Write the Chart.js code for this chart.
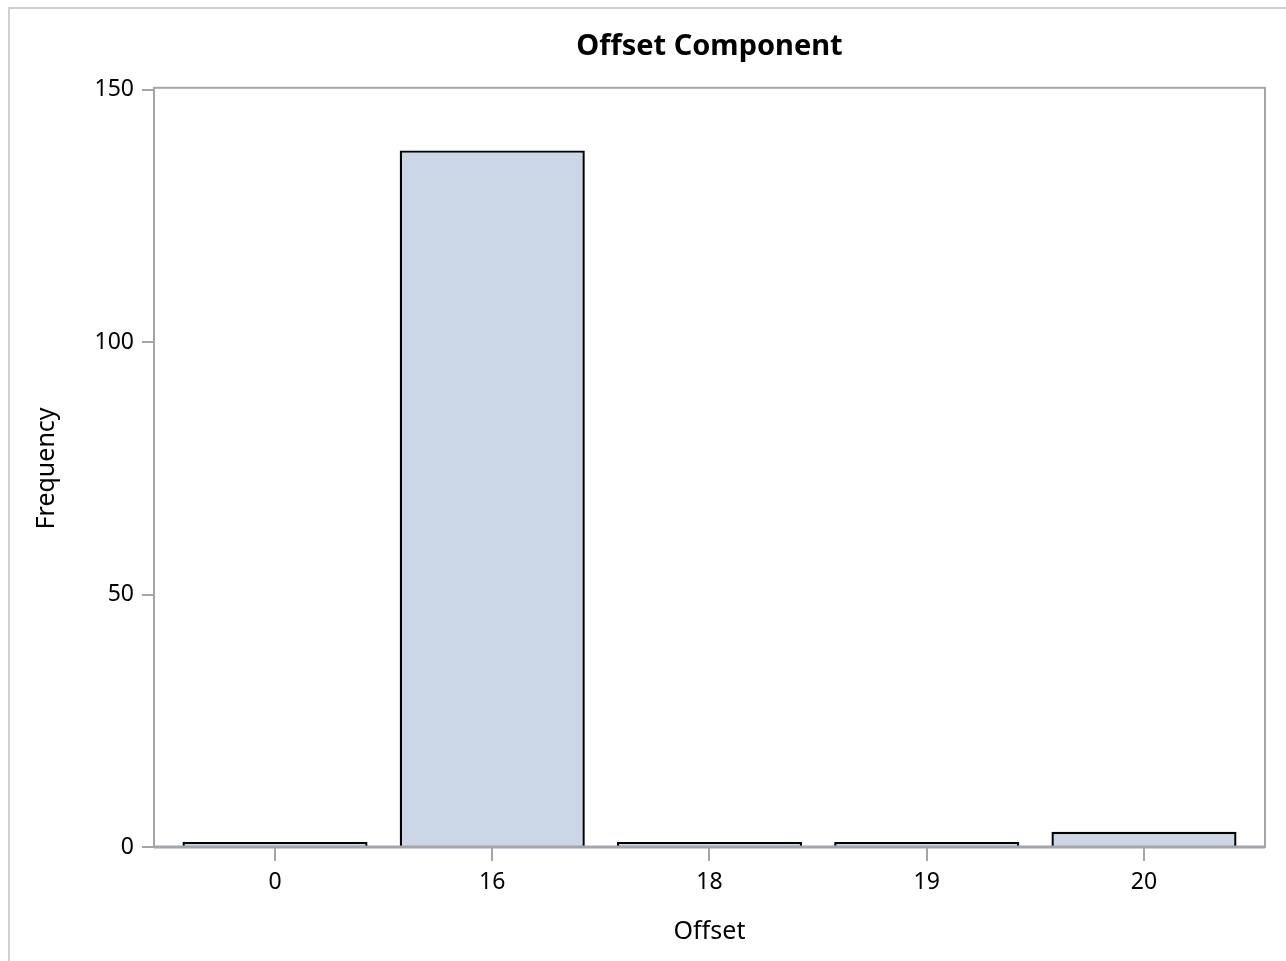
<!DOCTYPE html>
<html>
<head>
<meta charset="utf-8">
<script src="https://cdn.jsdelivr.net/npm/chart.js@4"></script>
<style>
  html, body { margin: 0; padding: 0; background: #fff; }
  canvas { display: block; }
</style>
</head>
<body>
<canvas id="grafico" width="1286" height="961"></canvas>
<script>
// Dados do gráfico
const categorias = ['0', '16', '18', '19', '20'];
const frequencias = [1, 138, 1, 1, 3];
const ticksY = [0, 50, 100, 150];

const FONTE = "'Noto Sans', 'Open Sans', sans-serif";
const CINZA = '#a2a6ab';

// Moldura externa e contorno da área do gráfico
const moldura = {
  id: 'moldura',
  beforeDraw(chart) {
    const c = chart.ctx;
    c.save();
    c.strokeStyle = '#d0d0d0';
    c.lineWidth = 2;
    c.strokeRect(9, 8, 1300, 1000);
    c.restore();
  },
  afterDatasetsDraw(chart) {
    const { ctx: c, chartArea: a } = chart;
    c.save();
    c.strokeStyle = CINZA;
    c.lineWidth = 2;
    c.strokeRect(a.left, a.top - 2, a.right - a.left, a.bottom - a.top + 2);
    c.lineWidth = 3;
    c.beginPath();
    c.moveTo(a.left, a.bottom);
    c.lineTo(a.right, a.bottom);
    c.stroke();
    c.restore();
  }
};

const chart = new Chart(document.getElementById('grafico'), {
  type: 'bar',
  data: {
    datasets: [{
      data: frequencias.map((v, i) => ({ x: i, y: v })),
      backgroundColor: '#cbd6e6',
      borderColor: '#000',
      borderWidth: 2.4,
      categoryPercentage: 1,
      barPercentage: 0.852
    }]
  },
  options: {
    responsive: false,
    animation: false,
    devicePixelRatio: 1,
    layout: { padding: { left: 0, right: 21, top: 0, bottom: 0 } },
    plugins: {
      legend: { display: false },
      tooltip: { enabled: false },
      title: {
        display: true,
        text: 'Offset Component',
        fullSize: false,
        color: '#000',
        font: { family: FONTE, size: 29, weight: 'bold' },
        padding: { top: 29, bottom: 26 }
      }
    },
    scales: {
      x: {
        type: 'linear',
        offset: false,
        min: -0.557,
        max: 4.557,
        afterBuildTicks: s => { s.ticks = categorias.map((c, i) => ({ value: i })); },
        afterFit: s => { s.height = 961 - 847; },
        ticks: {
          callback: v => categorias[v],
          color: '#000',
          font: { family: FONTE, size: 23 },
          padding: 8,
          maxRotation: 0
        },
        grid: { offset: false, drawOnChartArea: false, drawTicks: true, tickLength: 14, color: CINZA, lineWidth: 2 },
        border: { display: false },
        title: {
          display: true,
          text: 'Offset',
          color: '#000',
          font: { family: FONTE, size: 25 },
          padding: { top: 12, bottom: 14 }
        }
      },
      y: {
        min: 0,
        max: 150,
        afterBuildTicks: s => { s.ticks = ticksY.map(v => ({ value: v })); },
        afterFit: s => { s.width = 154; },
        ticks: {
          color: '#000',
          font: { family: FONTE, size: 23 },
          padding: 8
        },
        grid: { drawOnChartArea: false, drawTicks: true, tickLength: 12, color: CINZA, lineWidth: 2 },
        border: { display: false },
        title: {
          display: true,
          text: 'Frequency',
          color: '#000',
          font: { family: FONTE, size: 25 },
          padding: { top: 32, bottom: 0 }
        }
      }
    }
  },
  plugins: [moldura]
});
</script>
</body>
</html>
